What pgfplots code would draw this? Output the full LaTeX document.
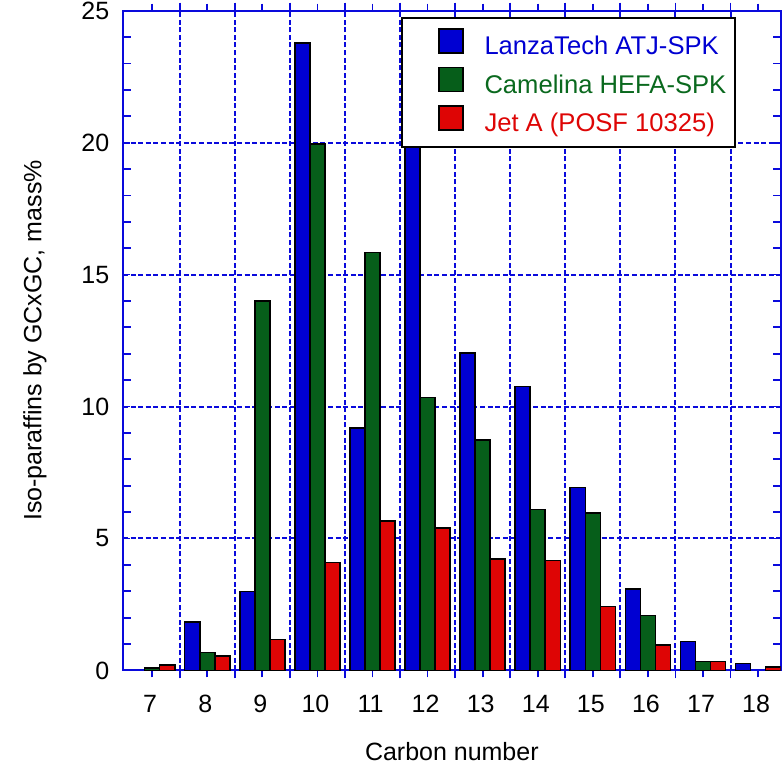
\documentclass[border=0pt]{standalone}
\usepackage{pgfplots}
\pgfplotsset{compat=1.18}
\usepackage{fontspec}
\setmainfont{Liberation Sans}
\definecolor{bblue}{RGB}{0,0,210}
\definecolor{bgreen}{RGB}{6,94,26}
\definecolor{bred}{RGB}{222,5,5}
\definecolor{tgreen}{RGB}{10,105,30}
\definecolor{gridblue}{RGB}{10,10,220}
\begin{document}
\begin{tikzpicture}
\begin{axis}[
  scale only axis, width=329pt, height=330pt,
  xmin=6.47, xmax=18.41, ymin=0, ymax=25,
  xtick={7,...,18},
  xticklabels={7,8,9,10,11,12,13,14,15,16,17,18},
  minor xtick={7.5,8.5,...,17.5},
  ytick={0,5,10,15,20,25},
  minor ytick={1,2,3,4,6,7,8,9,11,12,13,14,16,17,18,19,21,22,23,24},
  xmajorgrids=false, xminorgrids=true, ymajorgrids=true, yminorgrids=false,
  grid style={gridblue, dash pattern=on 2.5pt off 1.3pt, line width=1pt},
  minor grid style={gridblue, dash pattern=on 2.5pt off 1.3pt, line width=1pt},
  axis line style={gridblue, line width=1pt},
  tick style={gridblue, line width=0.9pt},
  tick align=inside,
  major tick length=3.5pt, minor tick length=4pt,
  ticklabel style={font=\fontsize{12.5}{15}\selectfont},
  /pgf/number format/assume math mode=true,
  xticklabel style={yshift=-5.5pt, xshift=-1pt},
  yticklabel style={xshift=-3.3pt},
  xlabel={Carbon number},
  ylabel={Iso-paraffins by GCxGC, mass\%},
  label style={font=\fontsize{12.5}{15}\selectfont},
  x label style={at={(axis description cs:0.5,0)}, anchor=base, yshift=-45.2pt},
  y label style={at={(axis description cs:-0.1337,0.5)}, anchor=center},
  ybar, bar width=0.273,
  legend style={at={(rel axis cs:0.4225,0.990)}, anchor=north west,
    draw=black, line width=1pt, fill=white,
    font=\fontsize{12.8}{15}\selectfont,
    inner xsep=4.5pt, inner ysep=5pt,
    nodes={inner sep=0pt, text height=9.5pt, text depth=3pt},
    row sep=3pt,
    /tikz/every odd column/.append style={column sep=10.5pt}},
  legend cell align=left,
  legend image code/.code={\path (0pt,0pt); \draw[#1, line width=0.9pt] (13.5pt,-2.5pt) rectangle (25.5pt,9.5pt);},
]
\addplot[fill=bblue, draw=black, line width=0.8pt, bar shift=-0.273] coordinates {
 (8,1.83) (9,2.99) (10,23.77) (11,9.18) (12,19.85) (13,12.02) (14,10.76) (15,6.93) (16,3.08) (17,1.10) (18,0.27)};
\addlegendentry{\textcolor{bblue}{LanzaTech ATJ-SPK}}
\addplot[fill=bgreen, draw=black, line width=0.8pt, bar shift=0] coordinates {
 (7,0.09) (8,0.68) (9,14.0) (10,19.94) (11,15.83) (12,10.34) (13,8.74) (14,6.10) (15,5.96) (16,2.08) (17,0.34)};
\addlegendentry{\textcolor{tgreen}{Camelina HEFA-SPK}}
\addplot[fill=bred, draw=black, line width=0.8pt, bar shift=0.273] coordinates {
 (7,0.20) (8,0.55) (9,1.17) (10,4.09) (11,5.67) (12,5.39) (13,4.23) (14,4.16) (15,2.42) (16,0.97) (17,0.34) (18,0.14)};
\addlegendentry{\textcolor{bred}{Jet A (POSF 10325)}}
\end{axis}
\pgfresetboundingbox
\path[use as bounding box] ([xshift=-61.5pt,yshift=-49.65pt]current axis.south west) rectangle ([xshift=1.65pt,yshift=5.35pt]current axis.north east);
\end{tikzpicture}
\end{document}
